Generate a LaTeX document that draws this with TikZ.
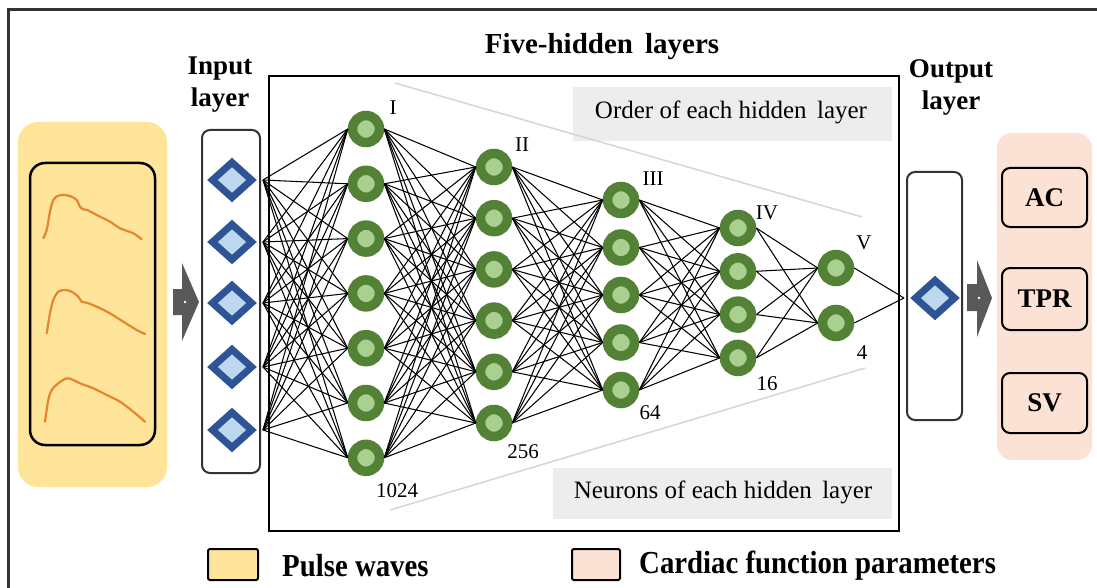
\documentclass[tikz,border=0pt]{standalone}
\usepackage{fontspec}
\setmainfont{Liberation Serif}
\usetikzlibrary{shapes.geometric}

\definecolor{yellowbg}{HTML}{FFE59A}
\definecolor{pinkbg}{HTML}{FBE2D5}
\definecolor{dgreen}{HTML}{538135}
\definecolor{lgreen}{HTML}{A9D08E}
\definecolor{dblue}{HTML}{2F5496}
\definecolor{lblue}{HTML}{BDD7EE}
\definecolor{wave}{HTML}{E8832F}
\definecolor{arrowgrey}{HTML}{595959}
\definecolor{boxgrey}{HTML}{EDEDED}
\definecolor{diaggrey}{HTML}{D6D6D6}
\definecolor{framegrey}{HTML}{333333}

\begin{document}
\begin{tikzpicture}[x=1pt,y=-1pt,
  neuron/.style={circle, fill=lgreen, draw=dgreen, line width=9.5pt, minimum size=27pt, inner sep=0pt},
  unit/.style={diamond, fill=lblue, draw=dblue, line width=7pt, minimum width=42pt, minimum height=38pt, inner sep=0pt},
  link/.style={black, line width=1.05pt},
  layerbox/.style={draw=framegrey, line width=2pt, rounded corners=8pt},
  numlab/.style={font=\fontsize{21}{24}\selectfont, inner sep=0pt},
  headlab/.style={font=\bfseries\fontsize{27}{32}\selectfont, align=center, inner sep=0pt},
  notelab/.style={font=\fontsize{25}{28}\selectfont, inner sep=0pt},
  param/.style={draw=black, line width=2pt, rounded corners=8pt, minimum width=85pt, inner sep=0pt, font=\bfseries\fontsize{27}{30}\selectfont},
  legendlab/.style={font=\bfseries\fontsize{32}{34}\selectfont, anchor=west, inner sep=0pt},
  pulse/.style={wave, line width=2.2pt, line cap=round, line join=round}
]
\useasboundingbox (0,0) rectangle (1097,588);
\fill[white] (0,0) rectangle (1097,588);

% outer frame
\draw[framegrey, line width=3pt] (8,588) -- (8,10) -- (1097,10);

% pulse-wave input panel
\fill[yellowbg, rounded corners=20pt] (18,122) rectangle (167,487);
\draw[black, line width=2.5pt, rounded corners=15pt] (30,163) rectangle (155,445);
\draw[pulse] plot[smooth, tension=0.5] coordinates {(43.3,238.3) (46.7,230) (50,211.7) (53.3,200) (58.3,195.7) (65,195) (71.7,196.7) (76.7,200) (80,206.7) (83.3,209.3) (87.3,210) (96.7,215) (110,221.7) (120,228.3) (133.3,233.3) (141.7,239.3)};
\draw[pulse] plot[smooth, tension=0.5] coordinates {(46.7,333.3) (50,313.3) (53.3,300) (58.3,291.7) (65,290) (71.7,291.7) (78.3,296.7) (81.7,301.7) (86.7,302.7) (96.7,306.7) (110,313.3) (123.3,321.7) (136.7,330) (145,334)};
\draw[pulse] plot[smooth, tension=0.5] coordinates {(45,421.7) (48.3,400) (51.7,390) (58.3,383.3) (66.7,378.3) (73.3,380) (80,383.3) (93.3,388.3) (106.7,395) (120,401.7) (133.3,411.7) (145,421.7)};

% block arrow into the network
\fill[arrowgrey] (173,289) -- (182,289) -- (182,263) -- (199,302) -- (182,341) -- (182,315) -- (173,315) -- cycle;
\fill[white] (185,302) circle (1.3);

% input layer
\draw[layerbox] (202,130) rectangle (260,473);
\node[headlab] (inhead) at (220,85) {Input\\layer};
\foreach \i/\y in {1/180,2/242,3/303,4/367,5/430} {
  \node[unit] (in\i) at (232,\y) {};
  \coordinate (inp\i) at (263,\y);
}

% hidden layers frame and annotations
\draw[black, line width=2pt] (269,76) rectangle (899,531);
\node[headlab, font=\bfseries\fontsize{29}{32}\selectfont] (hidhead) at (602,47) {Five-hidden\ \,layers};
\fill[boxgrey] (573,87) rectangle (892,141);
\node[notelab] (order) at (731,112) {Order of each hidden\ \,layer};
\fill[boxgrey] (553,468) rectangle (892,519);
\node[notelab] (neur) at (723,492) {Neurons of each hidden\ \,layer};
\draw[diaggrey, line width=1.5pt] (395,83) -- (862,217);
\draw[diaggrey, line width=1.5pt] (390,510) -- (865,368);

% hidden neurons
\foreach \i in {1,...,7} \node[neuron] (a\i) at (366,{129+54.8*(\i-1)}) {};
\foreach \i in {1,...,6} \node[neuron] (b\i) at (494,{167+51.2*(\i-1)}) {};
\foreach \i in {1,...,5} \node[neuron] (c\i) at (621,{200+47.5*(\i-1)}) {};
\foreach \i in {1,...,4} \node[neuron] (d\i) at (738,{228+43.3*(\i-1)}) {};
\node[neuron] (e1) at (836,268) {};
\node[neuron] (e2) at (836,323) {};

% output layer
\draw[layerbox] (907,172) rectangle (962,420);
\node[headlab] (outhead) at (951,87) {Output\\layer};
\node[unit] (out) at (935,298) {};
\coordinate (outp) at (904,298);

% full connections
\foreach \i in {1,...,5} \foreach \j in {1,...,7} \draw[link] (inp\i) -- (a\j.west);
\foreach \i in {1,...,7} \foreach \j in {1,...,6} \draw[link] (a\i.east) -- (b\j.west);
\foreach \i in {1,...,6} \foreach \j in {1,...,5} \draw[link] (b\i.east) -- (c\j.west);
\foreach \i in {1,...,5} \foreach \j in {1,...,4} \draw[link] (c\i.east) -- (d\j.west);
\foreach \i in {1,...,4} \foreach \j in {1,2} \draw[link] (d\i.east) -- (e\j.west);
\foreach \i in {1,2} \draw[link] (e\i.east) -- (outp);

% layer order and size labels
\node[numlab] (o1) at (393,108) {I};
\node[numlab] (o2) at (522,145) {II};
\node[numlab] (o3) at (653,179) {III};
\node[numlab] (o4) at (767,213) {IV};
\node[numlab] (o5) at (864,243) {V};
\node[numlab] (n1) at (397,491) {1024};
\node[numlab] (n2) at (523,452) {256};
\node[numlab] (n3) at (650,413) {64};
\node[numlab] (n4) at (767,384) {16};
\node[numlab] (n5) at (862,353) {4};

% block arrow to the outputs
\fill[arrowgrey] (967,284) -- (977,284) -- (977,260) -- (992,298) -- (977,337) -- (977,311) -- (967,311) -- cycle;
\fill[white] (979,298) circle (1.3);

% cardiac parameter panel
\fill[pinkbg, rounded corners=15pt] (997,133) rectangle (1092,460);
\node[param, minimum height=59pt] (ac) at (1044.5,197.5) {AC};
\node[param, minimum height=62pt] (tpr) at (1044.5,299) {TPR};
\node[param, minimum height=60pt] (sv) at (1044.5,403) {SV};

% legend
\draw[black, fill=yellowbg, line width=2pt, rounded corners=2pt] (208,549) rectangle (258,580);
\node[legendlab] (lg1) at (282,566) {\scalebox{0.9}[1]{Pulse waves}};
\draw[black, fill=pinkbg, line width=2pt, rounded corners=2pt] (572,549) rectangle (620,580);
\node[legendlab] (lg2) at (639,566) {\scalebox{0.9}[1]{Cardiac function parameters}};
\end{tikzpicture}
\end{document}
